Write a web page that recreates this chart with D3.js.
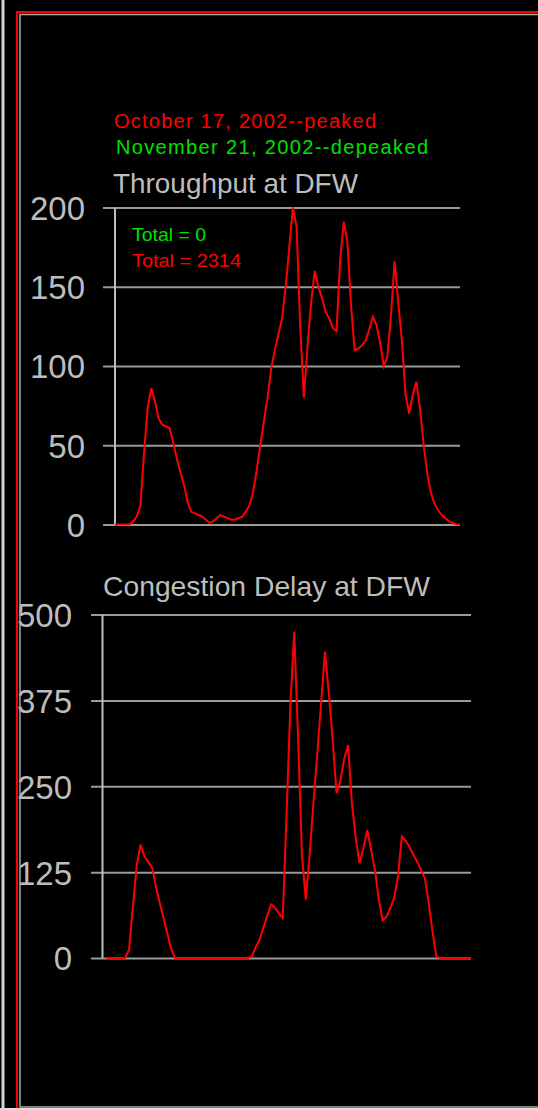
<!DOCTYPE html>
<html>
<head>
<meta charset="utf-8">
<script src="https://cdn.jsdelivr.net/npm/d3@7"></script>
<style>
    body { margin: 0; background: #000; }
    svg { display: block; }
    text { font-family: "Liberation Sans", Arial, sans-serif; }
</style>
</head>
<body>
<svg id="chart"></svg>
<script>
// 15 minute bins over the day
var throughput = [0, 0, 0, 0, 0, 2, 5, 12, 45, 74,
    86, 78, 67, 63, 62, 61, 52, 42, 33, 25,
    14, 8, 7, 6, 5, 3, 1, 2, 4, 6,
    5, 4, 3, 3, 4, 5, 8, 12, 20, 34,
    50, 65, 80, 98, 110, 120, 130, 150, 175, 200,
    188, 125, 80, 112, 140, 160, 150, 143, 134, 130,
    124, 122, 167, 191, 178, 138, 110, 111, 113, 116,
    123, 131, 126, 115, 100, 106, 132, 166, 140, 116,
    82, 70, 82, 90, 73, 50, 32, 20, 13, 9,
    6, 4, 2, 1, 0, 0];
var delay = [0, 0, 0, 0, 0, 0, 12, 75, 135, 165,
    148, 140, 132, 103, 80, 58, 35, 12, 0, 0,
    0, 0, 0, 0, 0, 0, 0, 0, 0, 0,
    0, 0, 0, 0, 0, 0, 0, 0, 3, 16,
    27, 45, 62, 78, 73, 65, 58, 210, 370, 475,
    320, 150, 85, 150, 226, 298, 372, 446, 385, 318,
    240, 258, 290, 310, 225, 175, 138, 160, 186, 158,
    128, 85, 55, 60, 73, 87, 119, 177, 170, 162,
    150, 140, 128, 116, 80, 38, 2, 0, 0, 0,
    0, 0, 0, 0, 0, 0];
var throughputTicks = [0, 50, 100, 150, 200];
var delayTicks = [0, 125, 250, 375, 500];
var legend = ["October 17, 2002--peaked", "November 21, 2002--depeaked"];
var totals = ["Total = 0", "Total = 2314"];

var width = 538,
    height = 1110,
    gray = "#bdbdbd",
    red = "#ff0000",
    green = "#00e000";

var svg = d3.select("#chart")
    .attr("width", width)
    .attr("height", height);

svg.append("rect")
    .attr("width", width)
    .attr("height", height)
    .attr("fill", "#000");

// legend
svg.append("text").attr("x", 114).attr("y", 128)
    .attr("font-size", 20).attr("fill", red)
    .attr("textLength", 262).attr("lengthAdjust", "spacing")
    .text(legend[0]);
svg.append("text").attr("x", 116).attr("y", 154)
    .attr("font-size", 20).attr("fill", green)
    .attr("textLength", 312).attr("lengthAdjust", "spacing")
    .text(legend[1]);

function drawChart(opts) {
    var g = svg.append("g");
    var x = d3.scaleLinear().domain([0, opts.data.length - 1]).range(opts.xRange);
    var y = d3.scaleLinear().domain([0, opts.max]).range(opts.yRange);

    // grid + labels through the axis
    var axis = d3.axisLeft(y)
        .tickValues(opts.ticks)
        .tickSizeInner(-(opts.gridRight - opts.gridLeft))
        .tickSizeOuter(0)
        .tickPadding(opts.gridLeft - opts.labelRight);
    var ag = g.append("g")
        .attr("transform", "translate(" + opts.gridLeft + ",0)")
        .call(axis);
    ag.select(".domain").remove();
    ag.selectAll(".tick line")
        .attr("x1", 0)
        .attr("x2", opts.gridRight - opts.gridLeft)
        .attr("stroke", "#9a9a9a")
        .attr("stroke-width", 2);
    ag.selectAll(".tick text")
        .attr("x", -(opts.gridLeft - opts.labelRight))
        .attr("dy", "0.36em")
        .attr("fill", gray)
        .attr("font-size", 33)
        .attr("font-family", "'Liberation Sans', Arial, sans-serif");

    g.append("line")
        .attr("x1", opts.axisX).attr("x2", opts.axisX)
        .attr("y1", y(opts.max)).attr("y2", y(0))
        .attr("stroke", gray).attr("stroke-width", 2);

    g.append("text")
        .attr("x", opts.titleX).attr("y", opts.titleY)
        .attr("font-size", 28).attr("fill", gray)
        .attr("textLength", opts.titleLen).attr("lengthAdjust", "spacingAndGlyphs")
        .text(opts.title);

    var line = d3.line()
        .x(function (d, i) { return x(i); })
        .y(function (d) { return y(d); });
    g.append("path")
        .datum(opts.data)
        .attr("d", line)
        .attr("fill", "none")
        .attr("stroke", red)
        .attr("stroke-width", 2)
        .attr("stroke-linejoin", "miter");
    return g;
}

var g1 = drawChart({
    data: throughput, max: 200, ticks: throughputTicks,
    xRange: [115, 460], yRange: [524.5, 207.5],
    gridLeft: 103, gridRight: 460, labelRight: 85, axisX: 115,
    title: "Throughput at DFW", titleX: 113, titleY: 193, titleLen: 245
});

g1.append("text").attr("x", 132).attr("y", 241)
    .attr("font-size", 19).attr("fill", green)
    .attr("textLength", 74).attr("lengthAdjust", "spacingAndGlyphs")
    .text(totals[0]);
g1.append("text").attr("x", 132).attr("y", 267)
    .attr("font-size", 19).attr("fill", red)
    .attr("textLength", 109).attr("lengthAdjust", "spacingAndGlyphs")
    .text(totals[1]);

drawChart({
    data: delay, max: 500, ticks: delayTicks,
    xRange: [106, 471], yRange: [958, 614.5],
    gridLeft: 91, gridRight: 471, labelRight: 72, axisX: 102.5,
    title: "Congestion Delay at DFW", titleX: 103, titleY: 596, titleLen: 327
});

// frame, drawn over the labels
svg.append("line")
    .attr("x1", 3).attr("x2", 3).attr("y1", 0).attr("y2", height)
    .attr("stroke", "#d4d4d4").attr("stroke-width", 3);
svg.append("rect")
    .attr("x", 17).attr("y", 12).attr("width", 600).attr("height", 1097)
    .attr("fill", "none").attr("stroke", red).attr("stroke-width", 2);
svg.append("rect")
    .attr("x", 20).attr("y", 14.5).attr("width", 600).attr("height", 1092.5)
    .attr("fill", "none").attr("stroke", "#a8a8a8").attr("stroke-width", 1.5);
svg.append("rect")
    .attr("x", 0).attr("y", 1108).attr("width", width).attr("height", 2)
    .attr("fill", "#ecd6d6");
</script>
</body>
</html>
